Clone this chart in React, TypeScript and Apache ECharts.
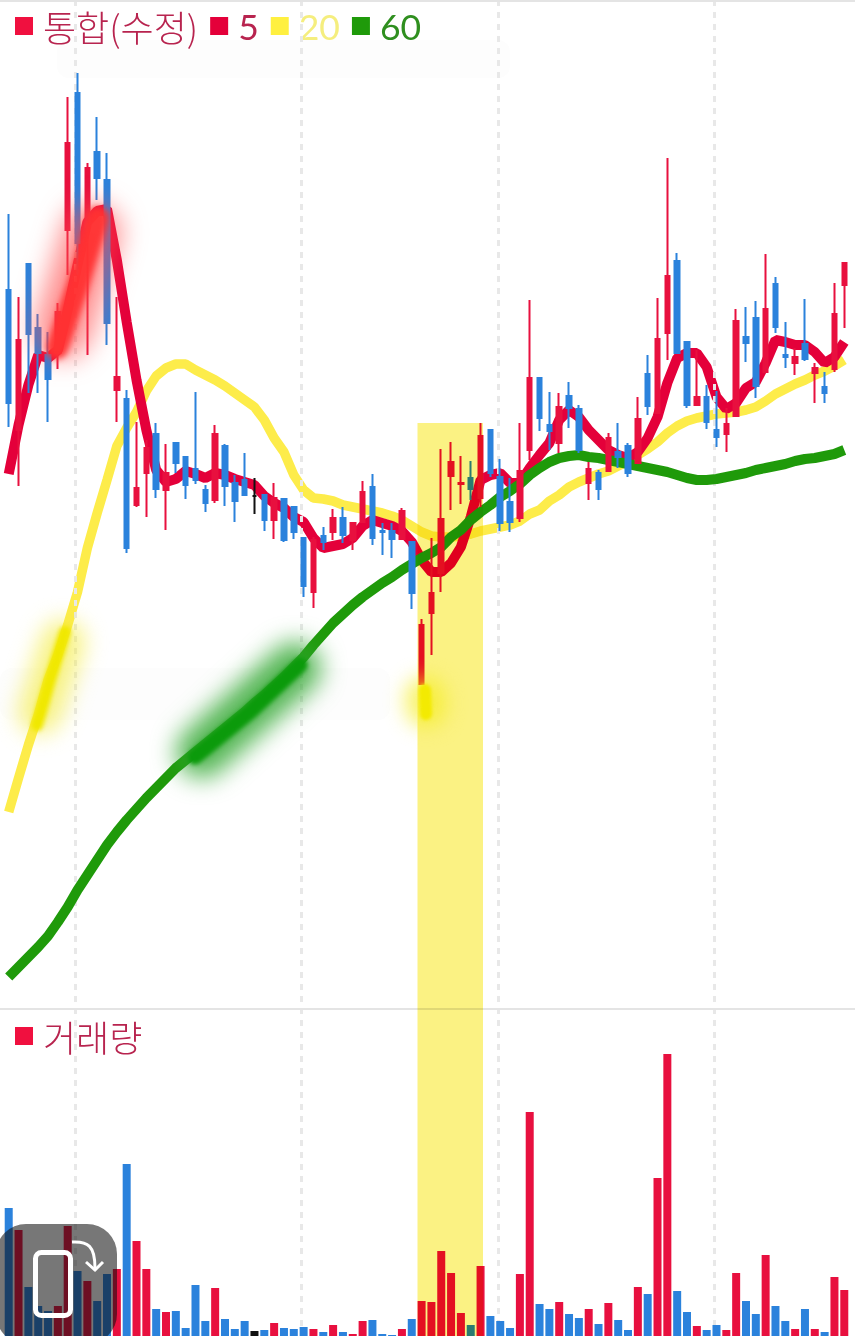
import React, { useEffect, useRef } from "react";
import * as echarts from "echarts";

const opens = [718,578,744,680,653,655,778,915,781,856,828,618,609,503,535,574,518,565,551,539,518,508,562,525,528,512,513,488,509,501,470,416,472,476,490,468,486,521,477,477,469,466,324,395,435,532,524,530,510,578,531,506,490,558,630,583,565,612,599,525,535,537,556,562,545,634,595,675,747,666,603,611,578,574,592,671,690,636,724,653,645,664,635,621,639,723];
const closes = [605,668,674,655,629,696,865,765,840,830,685,631,460,520,560,519,535,545,523,528,505,574,522,507,513,512,488,510,468,476,422,468,466,490,473,485,516,470,476,469,497,415,383,415,489,546,525,519,572,535,485,486,537,630,590,577,601,600,558,539,519,570,551,535,589,602,669,732,655,603,611,586,571,584,687,665,622,699,681,651,651,649,640,615,694,745];
const lows = [581,522,615,615,586,639,733,733,653,808,663,586,455,501,491,510,478,535,509,524,496,505,502,486,513,494,477,469,466,469,411,400,458,468,465,458,486,463,453,450,469,399,324,353,416,498,504,508,501,531,477,476,486,548,577,558,555,580,555,508,508,536,540,531,545,593,595,648,655,600,603,579,561,556,592,646,610,636,675,640,633,647,605,605,636,680];
const highs = [794,711,744,694,676,705,911,935,845,891,855,711,618,586,568,585,564,566,551,616,523,583,564,533,555,530,513,525,509,501,470,471,481,499,501,485,527,534,485,485,500,466,389,470,559,566,552,547,585,578,549,530,585,708,630,616,615,626,603,546,538,575,585,565,611,653,710,850,755,666,658,623,617,600,699,701,707,754,731,686,660,709,645,636,725,745];
const ma5 = [534,583,623,653,650,658,698,743,786,797,799,748,686,628,578,538,526,529,537,534,530,535,533,529,526,523,512,505,500,491,486,470,460,462,464,470,482,488,485,482,477,466,448,436,436,445,461,491,528,533,535,525,525,540,553,565,588,598,591,578,568,558,553,550,556,570,591,625,650,655,655,641,611,599,605,620,626,645,668,666,663,663,656,645,651,666];
const ma20 = [196,230,263,293,328,353,383,416,460,495,528,562,580,596,617,632,640,644,644,638,633,628,622,615,608,601,588,570,556,533,518,510,509,507,503,501,499,497,495,492,488,482,476,472,471,471,472,474,477,479,481,483,487,494,498,507,513,521,526,530,534,537,542,547,553,559,566,575,582,587,590,592,594,595,596,598,601,607,614,619,624,628,633,637,642,648];
const ma60 = [31,41,51,61,72,86,101,118,133,148,163,176,188,199,210,220,230,240,248,256,264,272,280,288,296,305,313,322,331,341,351,363,374,385,394,403,411,418,425,431,438,444,450,455,461,471,478,488,496,503,511,517,524,533,540,546,550,552,553,551,550,548,546,544,542,540,538,536,533,530,528,528,529,531,533,535,538,540,542,544,547,549,550,552,554,558];
const volumes = [128,106,49,30,25,30,110,65,55,35,62,67,172,95,67,27,24,25,8,51,15,48,17,7,15,5,6,13,8,7,9,7,4,11,4,2,15,16,2,1,7,17,35,34,85,63,23,11,70,20,15,8,62,224,32,27,34,22,18,27,12,33,16,6,49,42,158,282,45,24,10,6,11,6,63,35,22,81,30,15,7,27,7,4,59,46];
const categories = opens.map((_, i) => String(i));

const RED = "#e8103f";
const BLUE = "#2b82dc";
const BLACK = "#111111";
const BAND = "#fbf283";
const dojiIndex = 25;

const dividerLevels = [1, 1009];
const verticalGuides = [75, 301, 498, 714];

const candleColor = (i: number) =>
  i === dojiIndex ? BLACK : closes[i] >= opens[i] ? RED : BLUE;

const highlighterStrokes = [
  { points: [[63, 330], [92, 232]], width: 58, color: "#ff4a4b", opacity: 0.62, blur: 13 },
  { points: [[57, 348], [78, 285], [98, 218]], width: 22, color: "#ff3232", opacity: 0.95, blur: 3 },
  { points: [[40, 712], [63, 642]], width: 44, color: "#f4ec3c", opacity: 0.62, blur: 11 },
  { points: [[37, 725], [50, 680], [65, 632]], width: 12, color: "#f0e801", opacity: 1, blur: 2 },
  { points: [[202, 752], [295, 668]], width: 52, color: "#2ea62e", opacity: 0.82, blur: 12 },
  { points: [[195, 757], [250, 712], [300, 665]], width: 15, color: "#0b9a0b", opacity: 1, blur: 2 },
  { points: [[425, 697], [426, 707]], width: 40, color: "#f5ec1c", opacity: 0.65, blur: 10 },
  { points: [[425, 690], [426, 714]], width: 12, color: "#f3ea02", opacity: 1, blur: 1.5 },
];

const toRgb = (hex: string) => {
  const n = parseInt(hex.slice(1), 16);
  return `rgb(${n >> 16},${(n >> 8) & 255},${n & 255})`;
};
const norm = (s: string | null) => (s || "").replace(/\s/g, "").toLowerCase();

export default function App() {
  const ref = useRef<HTMLDivElement | null>(null);
  useEffect(() => {
    if (!ref.current) return;
    const chart = echarts.init(ref.current, undefined, { renderer: "svg" });
    const font = "'Noto Sans CJK KR', 'Noto Sans', sans-serif";
    const hangul = { fontFamily: font, fontSize: 36, fontWeight: 300, padding: [0, 0, 8, 5] };
    const digits = { fontFamily: "Lato, 'Noto Sans', sans-serif", fontSize: 35.5, padding: [0, 0, 8, 5] };
    chart.setOption({
      animation: false,
      backgroundColor: "#ffffff",
      grid: [
        { left: 3.8, width: 845.4, top: 0, height: 1008 },
        { left: 3.8, width: 845.4, top: 1009, height: 327 },
        { left: 0, right: 0, top: 0, bottom: 0 },
      ],
      xAxis: [
        { type: "category", gridIndex: 0, data: categories, show: false },
        { type: "category", gridIndex: 1, data: categories, show: false },
        { type: "value", gridIndex: 2, min: 0, max: 855, show: false },
      ],
      yAxis: [
        { type: "value", gridIndex: 0, min: 0, max: 1008, show: false },
        { type: "value", gridIndex: 1, min: 0, max: 327, show: false },
        { type: "value", gridIndex: 2, min: 0, max: 1336, inverse: true, show: false },
      ],
      legend: [
        {
          left: 10,
          top: 3,
          itemWidth: 18,
          itemHeight: 18,
          itemGap: 12,
          selectedMode: false,
          data: [
            { name: "통합(수정)", icon: "rect", itemStyle: { color: "#f0103f", borderWidth: 0 }, textStyle: { ...hangul, color: "#b8244f" } },
            { name: "5", icon: "rect", itemStyle: { color: "#e4003a" }, textStyle: { ...digits, color: "#b8244f" } },
            { name: "20", icon: "rect", itemStyle: { color: "#fff040" }, textStyle: { ...digits, color: "#f5ee7e" } },
            { name: "60", icon: "rect", itemStyle: { color: "#1f9a0a" }, textStyle: { ...digits, color: "#2f8f1f" } },
          ],
        },
        {
          left: 10,
          top: 1013,
          itemWidth: 18,
          itemHeight: 18,
          selectedMode: false,
          data: [
            { name: "거래량", icon: "rect", itemStyle: { color: "#f0103f" }, textStyle: { ...hangul, color: "#b8244f" } },
          ],
        },
      ],
      series: [
        {
          type: "line",
          name: "guides",
          xAxisIndex: 2,
          yAxisIndex: 2,
          z: 0,
          data: [],
          silent: true,
          markLine: {
            silent: true,
            symbol: "none",
            label: { show: false },
            animation: false,
            data: [
              ...verticalGuides.map((x) => ({
                xAxis: x,
                lineStyle: { color: "#e8e8e8", width: 3, type: [6, 6] },
              })),
              ...dividerLevels.map((y) => ({
                yAxis: y,
                lineStyle: { color: "#e4e4e4", width: 2, type: "solid" },
              })),
            ],
          },
        },
        {
          type: "line",
          name: "20",
          data: ma20,
          z: 3,
          symbol: "none",
          lineStyle: { color: "#fdec4a", width: 9.5 },
          itemStyle: { color: "#fdec4a" },
        },
        {
          type: "line",
          name: "5",
          data: ma5,
          z: 4,
          symbol: "none",
          lineStyle: { color: "#e4003a", width: 10 },
          itemStyle: { color: "#e4003a" },
        },
        {
          type: "line",
          name: "60",
          data: ma60,
          z: 5,
          symbol: "none",
          lineStyle: { color: "#1f9a0a", width: 10 },
          itemStyle: { color: "#1f9a0a" },
        },
        {
          type: "candlestick",
          name: "통합(수정)",
          z: 6,
          barWidth: 5,
          itemStyle: { color: RED, color0: BLUE, borderColor: RED, borderColor0: BLUE, borderWidth: 2 },
          data: opens.map((o, i) => {
            const item: any = { value: [o, closes[i], lows[i], highs[i]] };
            if (i === dojiIndex) {
              item.itemStyle = { color: BLACK, color0: BLACK, borderColor: BLACK, borderColor0: BLACK, borderColorDoji: BLACK };
            }
            return item;
          }),
        },
        {
          type: "bar",
          name: "거래량",
          xAxisIndex: 1,
          yAxisIndex: 1,
          barWidth: 8,
          z: 6,
          data: volumes.map((v, i) => ({ value: v, itemStyle: { color: candleColor(i) } })),
        },
      ],
      graphic: [
        { type: "rect", z: 1, silent: true, shape: { x: 57, y: 40, width: 453, height: 38, r: 12 }, style: { fill: "#fdfdfd" } },
        { type: "rect", z: 1, silent: true, shape: { x: 0, y: 668, width: 390, height: 52, r: 12 }, style: { fill: "#fdfdfd" } },
        { type: "rect", z: 15, silent: true, shape: { x: 417.5, y: 423, width: 65.5, height: 913 }, style: { fill: BAND, blend: "multiply" } },
        ...highlighterStrokes.map((s) => ({
          type: "polyline",
          z: 20,
          silent: true,
          shape: { points: s.points },
          style: {
            stroke: s.color,
            lineWidth: s.width,
            lineCap: "round",
            lineJoin: "round",
            fill: "none",
            opacity: s.opacity,
          },
        })),
        {
          type: "rect",
          z: 30,
          silent: true,
          shape: { x: -4, y: 1224, width: 121, height: 120, r: 30 },
          style: { fill: "rgba(14,14,14,0.566)" },
        },
        {
          type: "rect",
          z: 31,
          silent: true,
          shape: { x: 35.5, y: 1252.5, width: 35, height: 63, r: 6 },
          style: { fill: "none", stroke: "#ffffff", lineWidth: 5 },
        },
        {
          type: "bezierCurve",
          z: 31,
          silent: true,
          shape: { x1: 72, y1: 1242, cpx1: 88, cpy1: 1241, cpx2: 95, cpy2: 1246, x2: 95, y2: 1268 },
          style: { fill: "none", stroke: "#ffffff", lineWidth: 3 },
        },
        {
          type: "polyline",
          z: 31,
          silent: true,
          shape: { points: [[86, 1262], [95, 1270], [103, 1262]] },
          style: { fill: "none", stroke: "#ffffff", lineWidth: 3 },
        },
      ],
    });
    const root = ref.current;
    root.querySelectorAll("path, rect, polyline").forEach((el) => {
      const node = el as SVGElement;
      const fill = norm(el.getAttribute("fill"));
      if (fill === BAND || fill === toRgb(BAND)) node.style.mixBlendMode = "multiply";
      const stroke = norm(el.getAttribute("stroke"));
      const mark = highlighterStrokes.find((s) => s.color === stroke || toRgb(s.color) === stroke);
      if (mark) node.style.filter = `blur(${mark.blur}px)`;
    });
    return () => chart.dispose();
  }, []);
  return <div ref={ref} style={{ position: "absolute", left: 0, top: 0, width: 855, height: 1336 }} />;
}
